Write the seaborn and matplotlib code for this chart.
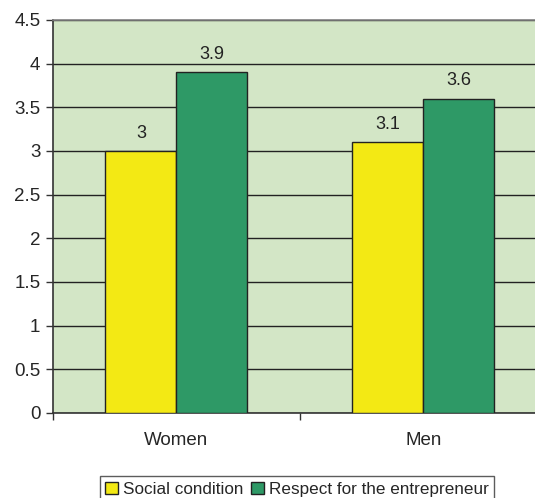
import pandas as pd
import numpy as np
import matplotlib
matplotlib.use("Agg")
import matplotlib.pyplot as plt
import seaborn as sns

# Chart data
groups = ["Women", "Men"]
series = ["Social condition", "Respect for the entrepreneur"]
social_condition = [3.0, 3.1]
respect_entrepreneur = [3.9, 3.6]
y_ticks = [0, 0.5, 1, 1.5, 2, 2.5, 3, 3.5, 4, 4.5]
y_tick_labels = ["0", "0.5", "1", "1.5", "2", "2.5", "3", "3.5", "4", "4.5"]

df = pd.DataFrame({
    "Group": groups * 2,
    "Series": [series[0]] * 2 + [series[1]] * 2,
    "Value": social_condition + respect_entrepreneur,
})

sns.set_style("white")
plt.rcParams["font.family"] = ["Liberation Sans", "DejaVu Sans"]

fig = plt.figure(figsize=(5.35, 4.98), dpi=100)
# plot area runs past the right edge of the picture, as in the original
ax = fig.add_axes([0.099, 0.171, 0.923, 0.789])
ax.set_facecolor("#d3e6c6")

palette = {series[0]: "#f3e914", series[1]: "#2e9966"}
sns.barplot(
    data=df, x="Group", y="Value", hue="Series", order=groups,
    hue_order=series, palette=palette, width=0.575, saturation=1,
    edgecolor="#222222", linewidth=1.0, ax=ax, zorder=3,
)

for cont in ax.containers:
    ax.bar_label(cont, labels=[f"{v:g}" for v in cont.datavalues],
                 padding=6.5, fontsize=13, color="#222222")

ax.set_xlim(-0.5, 1.5)
ax.set_ylim(0, 4.5)
ax.set_yticks(y_ticks)
ax.set_yticklabels(y_tick_labels)
ax.yaxis.grid(True, color="#222222", linewidth=1.0, zorder=0)
ax.set_axisbelow(True)

# category labels at centres, tick marks at category boundaries
ax.set_xticks([0, 1])
ax.set_xticklabels(groups)
ax.set_xticks([-0.5, 0.5, 1.5], minor=True)
ax.tick_params(axis="x", which="major", length=0, labelsize=13.5, pad=14)
ax.tick_params(axis="x", which="minor", length=5, width=1, color="#333333", bottom=True)
ax.tick_params(axis="y", length=5, width=1, color="#333333", labelsize=13.5, pad=4, left=True)
ax.set_xlabel("")
ax.set_ylabel("")

for side in ["left", "bottom"]:
    ax.spines[side].set_color("#333333")
    ax.spines[side].set_linewidth(1.2)
ax.spines["top"].set_color("#808080")
ax.spines["top"].set_linewidth(1.2)
ax.spines["right"].set_visible(False)

leg = ax.legend(
    loc="upper center", bbox_to_anchor=(0.494, -0.14), ncol=2,
    frameon=True, fontsize=12.3, handlelength=0.75, handleheight=0.75,
    handletextpad=0.3, columnspacing=0.45, borderpad=0.3,
    fancybox=False, edgecolor="#333333",
)
leg.get_frame().set_linewidth(1.0)

fig.savefig("out.png", dpi=100)
